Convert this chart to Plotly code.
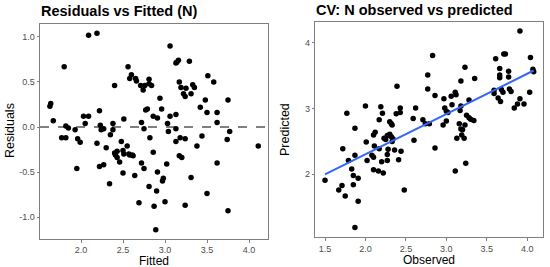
import plotly.graph_objects as go

# Residuals vs fitted (left panel)
fitted = [1.63, 1.64, 1.67, 1.80, 1.82, 1.85, 1.93, 1.77, 1.82, 1.95, 1.96, 1.99,
          2.03, 2.05, 2.09, 2.09, 2.19, 2.19, 2.22, 2.22, 2.23, 2.24, 2.27, 2.27,
          2.30, 2.34, 2.35, 2.38, 2.38, 2.40, 2.40, 2.41, 2.43, 2.43, 2.46, 2.48,
          2.50, 2.51, 2.50, 2.51, 2.55, 2.56, 2.57, 2.58, 2.58, 2.60, 2.61, 2.62,
          2.64, 2.65, 2.66, 2.69, 2.71, 2.72, 2.72, 2.74, 2.75, 2.75, 2.76, 2.77,
          2.79, 2.81, 2.81, 2.81, 2.82, 2.84, 2.86, 2.86, 2.87, 2.89, 2.90, 2.91,
          2.91, 2.94, 2.96, 2.97, 2.98, 3.00, 3.02, 3.03, 3.04, 3.06, 3.06, 3.13,
          3.13, 3.13, 3.14, 3.16, 3.13, 3.17, 3.18, 3.17, 3.20, 3.19, 3.22, 3.24,
          3.24, 3.24, 3.25, 3.29, 3.31, 3.31, 3.33, 3.35, 3.38, 3.42, 3.44, 3.48,
          3.50, 3.50, 3.51, 3.58, 3.62, 3.62, 3.62, 3.74, 3.75, 3.75, 3.77, 4.11]
residuals = [0.23, 0.26, 0.07, 0.67, 0.01, -0.01, -0.03, -0.12, -0.12, -0.46, -0.13, -0.17,
             0.12, 0.04, 0.12, 1.02, 1.04, -0.18, 0.18, -0.44, 0.02, -0.03, -0.02, -0.42,
             -0.23, -0.63, -0.085, 0.04, -0.03, 0.46, -0.29, -0.31, -0.27, -0.34, -0.39, -0.16,
             -0.26, -0.30, -0.51, 0.09, -0.21, 0.67, -0.30, 0.54, -0.31, 0.58, -0.31, -0.32,
             -0.54, 0.54, 0.51, -0.84, 0.46, 0.05, -0.40, 0.41, -0.02, -0.46, 0.46, 0.19,
             0.20, 0.53, 0.48, -0.66, -0.12, 0.46, 0.12, -0.28, -0.88, -1.14, -0.71, 0.10,
             -0.50, 0.32, 0.20, -0.60, -0.57, -0.83, -0.41, 0.04, -0.05, 0.90, 0.12, -0.02,
             0.14, 0.71, 0.72, 0.74, -0.16, 0.50, -0.12, -0.32, -0.34, 0.44, 0.37, 0.34,
             -0.13, -0.87, 0.43, 0.73, 0.37, -0.56, 0.47, 0.44, -0.21, 0.22, -0.10, 0.30,
             0.16, -0.74, 0.57, 0.50, 0.16, 0.05, -0.40, -0.14, 0.30, -0.93, -0.05, -0.21]

# Observed vs predicted (right panel)
observed = [1.50, 1.67, 1.71, 1.72, 1.75, 1.77, 1.79, 1.83, 1.85, 1.85, 1.87, 1.87,
            1.87, 1.91, 1.91, 2.00, 2.01, 2.02, 2.08, 2.10, 2.10, 2.10, 2.12, 2.11,
            2.16, 2.17, 2.17, 2.19, 2.20, 2.21, 2.22, 2.23, 2.25, 2.27, 2.27, 2.27,
            2.28, 2.30, 2.30, 2.32, 2.32, 2.33, 2.33, 2.34, 2.36, 2.38, 2.39, 2.41,
            2.43, 2.43, 2.44, 2.48, 2.59, 2.60, 2.62, 2.71, 2.74, 2.77, 2.77, 2.79,
            2.83, 2.86, 2.86, 2.96, 2.97, 2.98, 3.00, 3.02, 3.00, 3.06, 3.07, 3.11,
            3.12, 3.11, 3.13, 3.16, 3.17, 3.18, 3.18, 3.18, 3.19, 3.20, 3.22, 3.23,
            3.23, 3.24, 3.28, 3.25, 3.28, 3.30, 3.34, 3.35, 3.59, 3.59, 3.61, 3.64,
            3.66, 3.66, 3.66, 3.67, 3.68, 3.70, 3.71, 3.73, 3.77, 3.77, 3.78, 3.80,
            3.84, 3.88, 3.91, 3.91, 3.96, 4.03, 4.04, 4.07, 4.08]
predicted = [1.91, 1.76, 1.83, 2.39, 1.67, 2.93, 2.21, 2.08, 1.98, 1.84, 2.29, 1.19,
             2.70, 1.94, 1.59, 3.04, 2.49, 2.21, 2.29, 2.26, 2.07, 2.60, 2.64, 2.43,
             2.05, 2.39, 2.83, 3.03, 2.19, 2.93, 2.02, 2.55, 2.53, 2.59, 2.30, 2.21,
             2.38, 2.61, 2.80, 2.57, 2.77, 2.75, 2.50, 2.54, 2.37, 2.92, 3.34, 2.22,
             3.01, 2.94, 2.35, 1.76, 2.85, 2.52, 3.01, 2.83, 2.77, 3.30, 3.51, 2.77,
             3.81, 3.20, 2.40, 2.75, 3.15, 3.01, 2.96, 2.94, 2.81, 3.19, 3.06, 3.25,
             3.21, 2.05, 2.55, 2.77, 2.97, 3.04, 3.42, 2.69, 2.60, 2.68, 2.55, 2.75,
             3.63, 2.17, 3.13, 2.90, 2.86, 2.84, 2.82, 3.46, 3.28, 3.23, 3.76, 3.16,
             3.61, 3.51, 3.47, 3.11, 3.29, 3.25, 3.83, 3.83, 3.57, 3.48, 3.30, 3.26,
             3.01, 3.07, 3.15, 4.18, 3.07, 3.25, 3.78, 3.60, 3.56]

# lm fit line
fit_x = [1.50, 4.08]
fit_y = [2.00, 3.58]

W, H = 550, 267
grey = "#4d4d4d"
font = "Liberation Sans, Arial, sans-serif"

fig = go.Figure()
fig.add_trace(go.Scatter(x=fitted, y=residuals, mode="markers",
                         marker=dict(color="black", size=5.5), xaxis="x", yaxis="y"))
fig.add_trace(go.Scatter(x=observed, y=predicted, mode="markers",
                         marker=dict(color="black", size=5.5), xaxis="x2", yaxis="y2"))
fig.add_trace(go.Scatter(x=fit_x, y=fit_y, mode="lines",
                         line=dict(color="#3366FF", width=2), xaxis="x2", yaxis="y2"))

def ax(**kw):
    d = dict(showgrid=False, zeroline=False, showline=True, mirror=True,
             linecolor="#7f7f7f", linewidth=1, ticks="outside", ticklen=2.5,
             tickcolor="#7f7f7f", tickfont=dict(size=9, color=grey, family=font))
    d.update(kw)
    return d

fig.update_layout(
    width=W, height=H, margin=dict(l=0, r=0, t=0, b=0),
    paper_bgcolor="white", plot_bgcolor="white", showlegend=False,
    font=dict(family=font),
    xaxis=ax(domain=[40 / W, 268 / W], range=[1.512, 4.226],
             tickvals=[2.0, 2.5, 3.0, 3.5, 4.0], ticktext=["2.0", "2.5", "3.0", "3.5", "4.0"],
             anchor="y"),
    yaxis=ax(domain=[1 - 239 / H, 1 - 24 / H], range=[-1.244, 1.144],
             tickvals=[-1.0, -0.5, 0.0, 0.5, 1.0], ticktext=["-1.0", "-0.5", "0.0", "0.5", "1.0"],
             anchor="x"),
    xaxis2=ax(domain=[315.3 / W, 543 / W], range=[1.38, 4.195],
              tickvals=[1.5, 2.0, 2.5, 3.0, 3.5, 4.0],
              ticktext=["1.5", "2.0", "2.5", "3.0", "3.5", "4.0"], anchor="y2"),
    yaxis2=ax(domain=[1 - 237.3 / H, 1 - 22.3 / H], range=[1.041, 4.314],
              tickvals=[2, 3, 4], anchor="x2"),
)

# dashed zero line
fig.add_shape(type="line", xref="x domain", yref="y", x0=0, x1=1, y0=0, y1=0,
              line=dict(color="black", width=1, dash="dash"))

def note(text, x, y, size, bold=False, angle=0, xanchor="center", color="black"):
    fig.add_annotation(text="<b>%s</b>" % text if bold else text,
                       xref="paper", yref="paper", x=x / W, y=1 - y / H,
                       xanchor=xanchor, yanchor="middle", showarrow=False, textangle=angle,
                       font=dict(size=size, color=color, family=font))

note("Residuals vs Fitted (N)", 39, 11, 14.5, bold=True, xanchor="left")
note("CV: N observed vs predicted", 314, 10, 14.5, bold=True, xanchor="left")
note("Fitted", 154, 260.5, 12)
note("Observed", 429, 259.5, 12)
note("Residuals", 10, 131, 12.5, angle=-90)
note("Predicted", 285, 130, 12.5, angle=-90)

# drop the browser's default page margin so the figure sits at the top-left corner
fig.write_html("out.html", config={"displayModeBar": False},
               post_script="document.body.style.margin='0px';")
